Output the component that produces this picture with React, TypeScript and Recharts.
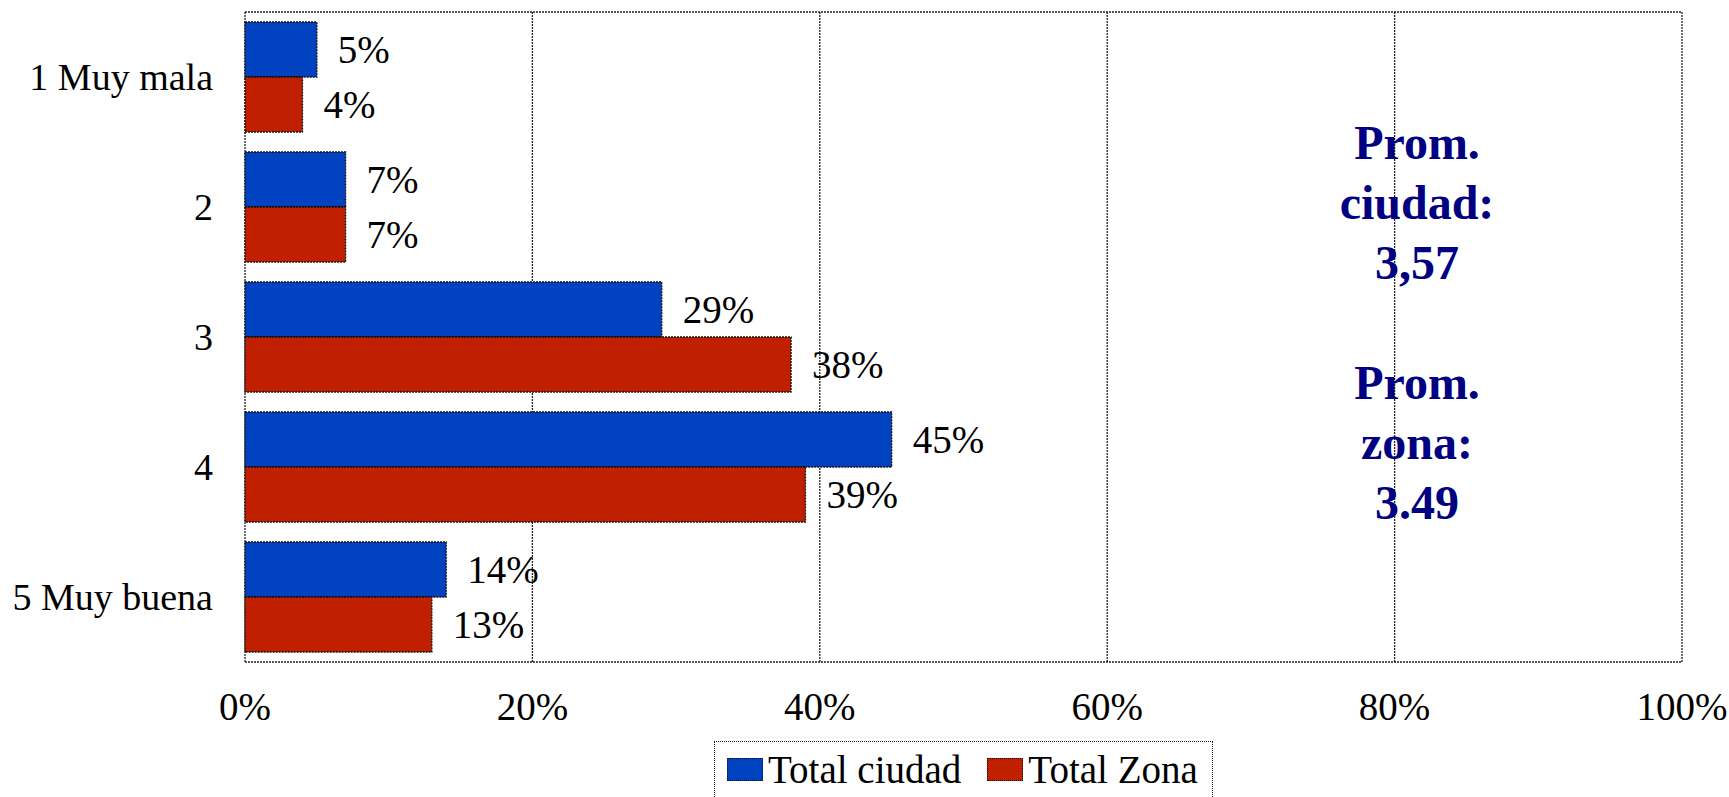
import { Bar, BarChart, CartesianGrid, LabelList, XAxis, YAxis } from 'recharts';

const categories = ['1 Muy mala', '2', '3', '4', '5 Muy buena'];
const totalCiudad = [5, 7, 29, 45, 14];
const totalZona = [4, 7, 38, 39, 13];
const xTicks = [0, 20, 40, 60, 80, 100];
const seriesNames = ['Total ciudad', 'Total Zona'];
const seriesColors = ['#0042C0', '#C02000'];
const promLines = ['Prom.', 'ciudad:', '3,57', '', 'Prom.', 'zona:', '3.49'];

const data = categories.map((cat, i) => ({
  cat,
  ciudad: totalCiudad[i],
  zona: totalZona[i]
}));

const font = '"Liberation Serif", "Times New Roman", serif';
const pct = (v: number) => `${v}%`;

export default function App() {
  return (
    <div style={{ position: 'absolute', left: 0, top: 0, width: 1729, height: 797, fontFamily: font, background: '#fff' }}>
      <BarChart
        width={1729}
        height={797}
        data={data}
        layout="vertical"
        margin={{ top: 12, right: 47, left: 0, bottom: 75 }}
        barCategoryGap="7.7%"
        barGap={0}
        style={{ fontFamily: font }}
      >
        <CartesianGrid
          stroke="#222"
          strokeWidth={1.3}
          strokeDasharray="2 1"
          horizontalCoordinatesGenerator={({ offset }: any) => [offset.top, offset.top + offset.height]}
        />
        <XAxis
          type="number"
          domain={[0, 100]}
          ticks={xTicks}
          tickFormatter={pct}
          axisLine={false}
          tickLine={false}
          tickMargin={24}
          height={60}
          tick={{ fill: '#000', fontSize: 39, fontFamily: font }}
        />
        <YAxis
          type="category"
          dataKey="cat"
          width={245}
          axisLine={false}
          tickLine={false}
          tickMargin={26}
          tick={{ fill: '#000', fontSize: 38, fontFamily: font }}
        />
        <Bar dataKey="ciudad" fill={seriesColors[0]} stroke="#111" strokeWidth={1.3} strokeDasharray="2 1" isAnimationActive={false}>
          <LabelList dataKey="ciudad" position="right" offset={21} formatter={pct} fill="#000" fontSize={39} fontFamily={font} />
        </Bar>
        <Bar dataKey="zona" fill={seriesColors[1]} stroke="#111" strokeWidth={1.3} strokeDasharray="2 1" isAnimationActive={false}>
          <LabelList dataKey="zona" position="right" offset={21} formatter={pct} fill="#000" fontSize={39} fontFamily={font} />
        </Bar>
      </BarChart>

      <div
        style={{
          position: 'absolute',
          left: 1267,
          top: 113,
          width: 300,
          textAlign: 'center',
          fontSize: 48,
          fontWeight: 'bold',
          lineHeight: '60px',
          color: '#000080'
        }}
      >
        {promLines.map((t, i) => (
          <div key={i} style={{ height: 60 }}>{t}</div>
        ))}
      </div>

      <div
        style={{
          position: 'absolute',
          left: 714,
          top: 741,
          width: 499,
          height: 70,
          boxSizing: 'border-box',
          border: '1.5px dotted #222',
          paddingLeft: 12,
          paddingTop: 5,
          display: 'flex',
          alignItems: 'flex-start',
          whiteSpace: 'nowrap'
        }}
      >
        {seriesNames.map((name, i) => (
          <div key={name} style={{ display: 'flex', alignItems: 'center', marginRight: 26, flexShrink: 0 }}>
            <span
              style={{
                display: 'inline-block',
                width: 36,
                height: 23,
                boxSizing: 'border-box',
                background: seriesColors[i],
                border: '1.3px dotted #111',
                marginRight: 5,
                flexShrink: 0
              }}
            />
            <span style={{ fontSize: 39, color: '#000', whiteSpace: 'nowrap' }}>{name}</span>
          </div>
        ))}
      </div>
    </div>
  );
}
